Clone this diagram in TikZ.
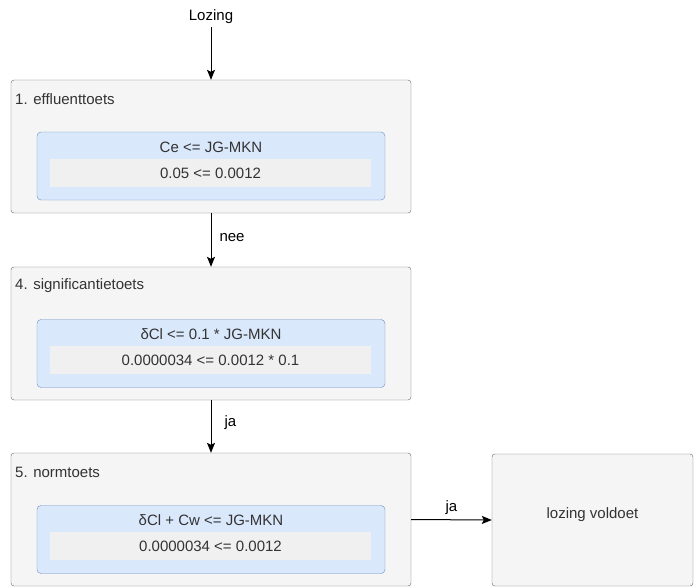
\documentclass[tikz,border=0pt]{standalone}
\usepackage{fontspec}
\setmainfont{Liberation Sans}
\usetikzlibrary{arrows.meta}

\definecolor{boxfill}{HTML}{F5F5F5}
\definecolor{boxline}{HTML}{666666}
\definecolor{bluefill}{HTML}{DAE8FC}
\definecolor{blueline}{HTML}{6C8EBF}
\definecolor{stripfill}{HTML}{F0F0F0}
\definecolor{textgrey}{HTML}{333333}

\tikzset{
  toets/.style={draw=boxline, fill=boxfill, rounded corners=3pt,
    minimum width=400pt, minimum height=133pt, inner sep=0pt},
  voorwaarde/.style={draw=blueline, fill=bluefill, rounded corners=4pt,
    minimum width=348pt, minimum height=68pt, inner sep=0pt},
  waarden/.style={fill=stripfill, minimum width=321pt, minimum height=28pt,
    inner sep=0pt, text=textgrey},
  kop/.style={text=textgrey, inner sep=0pt},
  stap/.style={-{Stealth[length=10pt,width=8pt,inset=2pt]}, line width=1pt},
  keuze/.style={inner sep=0pt}
}

\begin{document}
\begin{tikzpicture}[x=1pt,y=-1pt,font=\fontsize{15}{18}\selectfont]
  \useasboundingbox (0,0) rectangle (694,587);

  \node[inner sep=0pt] (lozing) at (211,17) {Lozing};

  % 1. effluenttoets
  \node[toets] (effluent) at (211,146.5) {};
  \node[kop, anchor=west] at (15,99) {1. effluenttoets};
  \node[voorwaarde] (effluentvw) at (211,166) {};
  \node[kop] at (211,147) {Ce <= JG-MKN};
  \node[waarden] (effluentwd) at (210.5,173) {0.05 <= 0.0012};

  % 4. significantietoets
  \node[toets] (signif) at (211,333.5) {};
  \node[kop, anchor=west] at (15,286) {4. significantietoets};
  \node[voorwaarde] (signifvw) at (211,353.5) {};
  \node[kop] at (211,334) {δCl <= 0.1 * JG-MKN};
  \node[waarden] (signifwd) at (210.5,360) {0.0000034 <= 0.0012 * 0.1};

  % 5. normtoets
  \node[toets] (norm) at (211,519.5) {};
  \node[kop, anchor=west] at (15,472) {5. normtoets};
  \node[voorwaarde] (normvw) at (211,539.5) {};
  \node[kop] at (211,520) {δCl + Cw <= JG-MKN};
  \node[waarden] (normwd) at (210.5,546) {0.0000034 <= 0.0012};

  % uitkomst
  \node[toets, minimum width=201pt, minimum height=132pt] (voldoet) at (592.5,520) {};
  \node[kop] at (592.5,515) {lozing voldoet};

  \draw[stap] (lozing.south |- 0,27) -- (effluent.north);
  \draw[stap] (effluent.south) -- node[keuze, right=8pt, pos=0.45] {nee} (signif.north);
  \draw[stap] (signif.south) -- node[keuze, right=13pt, pos=0.42] {ja} (norm.north);
  \draw[stap] (norm.east) -- node[keuze, above=5pt] {ja} (voldoet.west);
\end{tikzpicture}
\end{document}
